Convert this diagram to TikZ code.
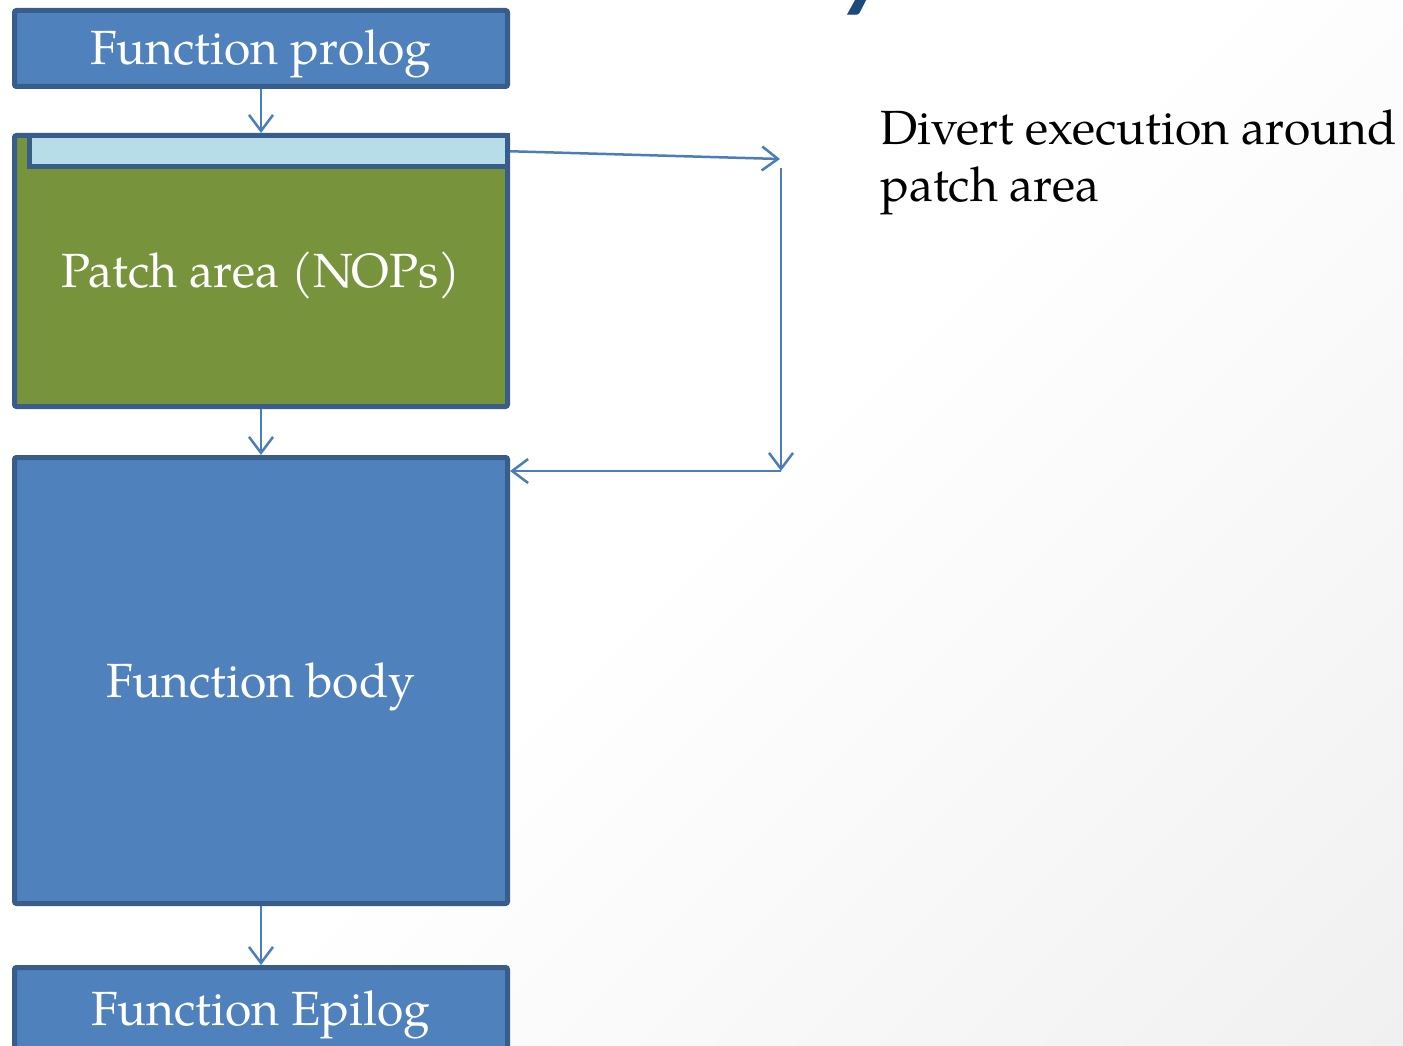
\documentclass[tikz,border=0pt]{standalone}
\usepackage{fontspec}
\setmainfont{texgyrepagella}[Extension=.otf, UprightFont=*-regular, BoldFont=*-bold, ItalicFont=*-italic, BoldItalicFont=*-bolditalic]
\newfontfamily\titlefont{Carlito}
\usetikzlibrary{arrows.meta,calc}

\definecolor{boxblue}{HTML}{4F81BD}
\definecolor{boxedge}{HTML}{385D8A}
\definecolor{patchgreen}{HTML}{77933C}
\definecolor{barblue}{HTML}{B7DEE8}
\definecolor{flowblue}{HTML}{4A7EBB}
\definecolor{titleblue}{HTML}{1F497D}
\definecolor{bgdark}{HTML}{EAEAEA}

\pgfdeclarehorizontalshading{pagebg}{100bp}{color(0bp)=(white); color(50bp)=(white); color(100bp)=(bgdark)}

\tikzset{
  block/.style={draw=boxedge, line width=5pt, rounded corners=2pt,
    minimum width=493pt, inner sep=0pt, text=white,
    text height=42pt, text depth=9pt,
    font=\fontsize{48}{57}\selectfont},
  bluebox/.style={block, fill=boxblue},
  greenbox/.style={block, fill=patchgreen},
  barbox/.style={draw=boxedge, line width=5pt, fill=barblue, inner sep=0pt},
  flow/.style={draw=flowblue, line width=2.5pt,
    -{Straight Barb[length=16pt, width=24pt, line width=2.5pt]}},
  caption/.style={font=\fontsize{48}{57}\selectfont, text=black,
    align=left, anchor=north west, inner sep=0pt}
}

\begin{document}
\begin{tikzpicture}[x=1pt, y=-1pt]
  % page with a soft grey fade towards the lower right
  \useasboundingbox (0,0) rectangle (1403,1046);
  \clip (0,0) rectangle (1403,1046);
  \shade[shading=pagebg, shading angle=-45] (0,0) rectangle (1403,1046);

  % tail of the slide heading
  \node[anchor=base, text=titleblue, inner sep=0pt,
        font=\titlefont\bfseries\itshape\fontsize{100}{100}\selectfont] (heading) at (866,0) {y};

  % stack of code regions
  \node[bluebox, minimum height=76pt] (prolog) at (261,48.5) {Function prolog};
  \node[greenbox, minimum height=271pt] (patch) at (261,271) {Patch area (NOPs)};
  \node[barbox, minimum width=478.5pt, minimum height=30.5pt] (bar) at (268.25,151.25) {};
  \node[bluebox, minimum height=446pt] (body) at (261,680.5) {Function body};
  \node[bluebox, minimum height=82.5pt] (epilog) at (261,1008.75) {Function Epilog};

  % detour around the patch area
  \coordinate (jumpend) at (780,159);
  \coordinate (downtop) at (781,168);
  \coordinate (downend) at (781,471);

  \draw[flow] (prolog.south) -- (patch.north);
  \draw[flow] (patch.south) -- (body.north);
  \draw[flow] (body.south) -- (epilog.north);
  \draw[flow] (bar.east) -- (jumpend);
  \draw[flow] (downtop) -- (downend);
  \draw[flow] (downend) -- (body.east |- downend);

  \node[caption] (note) at (880,109) {Divert execution around\\patch area};
\end{tikzpicture}
\end{document}
